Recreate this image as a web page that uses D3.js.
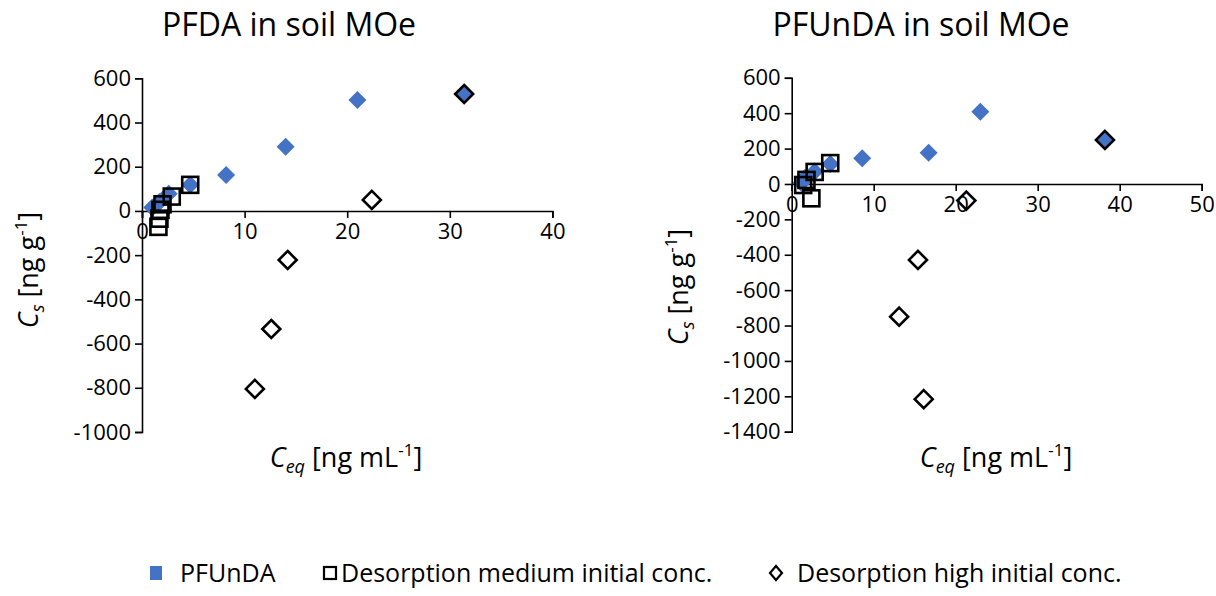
<!DOCTYPE html>
<html>
<head>
<meta charset="utf-8">
<script src="https://cdn.jsdelivr.net/npm/d3@7"></script>
<style>
  body { margin: 0; background: #fff; }
  svg { font-family: "Open Sans", sans-serif; }
</style>
</head>
<body>
<svg id="chart" width="1216" height="596"></svg>
<script>
// PFDA panel
var pfdaAdsX = [1.0, 1.7, 2.6, 4.7, 8.2, 14.0, 21.0, 31.4];
var pfdaAdsY = [15, 40, 78, 118, 163, 290, 502, 529];
var pfdaMedX = [1.6, 1.7, 1.8, 2.0, 2.9, 4.7];
var pfdaMedY = [-72, -35, 5, 30, 65, 118];
var pfdaHighX = [11.0, 12.6, 14.2, 22.4, 31.4];
var pfdaHighY = [-805, -534, -222, 50, 529];

// PFUnDA panel
var pfundaAdsX = [1.2, 1.6, 2.8, 4.7, 8.6, 16.7, 23.0, 38.2];
var pfundaAdsY = [5, 34, 70, 113, 145, 177, 408, 249];
var pfundaMedX = [1.4, 1.8, 2.4, 2.8, 4.7];
var pfundaMedY = [-6, 23, -81, 68, 118];
var pfundaHighX = [13.1, 15.4, 16.1, 21.3, 38.2];
var pfundaHighY = [-750, -429, -1216, -94, 249];

var leftXTicks = [0, 10, 20, 30, 40];
var leftYTicks = [-1000, -800, -600, -400, -200, 0, 200, 400, 600];
var rightXTicks = [0, 10, 20, 30, 40, 50];
var rightYTicks = [-1400, -1200, -1000, -800, -600, -400, -200, 0, 200, 400, 600];

var legendLabels = ["PFUnDA", "Desorption medium initial conc.", "Desorption high initial conc."];

var blue = "#4472c4";
var svg = d3.select("#chart");

function zip(xs, ys) {
  return xs.map(function(x, i) { return { x: x, y: ys[i] }; });
}

// excel style labels use a plain hyphen
function fmt(d) { return String(d); }

function panel(opt) {
  var x = d3.scaleLinear().domain(opt.xDomain).range(opt.xRange);
  var y = d3.scaleLinear().domain(opt.yDomain).range(opt.yRange);
  var g = svg.append("g");

  // y axis
  var ya = g.append("g")
    .attr("transform", "translate(" + x(0) + ",0)")
    .call(d3.axisLeft(y).tickValues(opt.yTicks).tickSize(7).tickPadding(4).tickFormat(fmt));
  ya.select(".domain").attr("stroke", "#000").attr("stroke-width", 1.6);
  ya.selectAll(".tick line").attr("stroke", "#000").attr("stroke-width", 1.6);
  ya.selectAll(".tick text").attr("font-size", 22).attr("fill", "#000")
    .attr("font-family", "Open Sans");

  // x axis sits on y = 0
  var xa = g.append("g")
    .attr("transform", "translate(0," + y(0) + ")")
    .call(d3.axisBottom(x).tickValues(opt.xTicks).tickSize(7).tickPadding(5).tickSizeOuter(7).tickFormat(fmt));
  xa.select(".domain").attr("stroke", "#000").attr("stroke-width", 1.6);
  xa.selectAll(".tick line").attr("stroke", "#000").attr("stroke-width", 1.6);
  xa.selectAll(".tick text").attr("font-size", 22).attr("fill", "#000")
    .attr("font-family", "Open Sans");

  // adsorption points
  g.selectAll(".ads").data(zip(opt.adsX, opt.adsY)).enter()
    .append("path")
    .attr("d", "M0,-9L9,0L0,9L-9,0Z")
    .attr("transform", function(d) { return "translate(" + x(d.x) + "," + y(d.y) + ")"; })
    .attr("fill", blue);

  // medium desorption (hollow squares)
  g.selectAll(".med").data(zip(opt.medX, opt.medY)).enter()
    .append("rect")
    .attr("x", function(d) { return x(d.x) - 8; })
    .attr("y", function(d) { return y(d.y) - 8; })
    .attr("width", 16).attr("height", 16)
    .attr("fill", "none").attr("stroke", "#000").attr("stroke-width", 2.6);

  // high desorption (hollow diamonds)
  g.selectAll(".high").data(zip(opt.highX, opt.highY)).enter()
    .append("path")
    .attr("d", "M0,-9L9,0L0,9L-9,0Z")
    .attr("transform", function(d) { return "translate(" + x(d.x) + "," + y(d.y) + ")"; })
    .attr("fill", "none").attr("stroke", "#000").attr("stroke-width", 2.6);

  // title
  g.append("text").attr("x", opt.titleX).attr("y", 36)
    .attr("text-anchor", "middle").attr("font-size", 32).text(opt.title);

  // x label
  var xl = g.append("text").attr("x", opt.xLabelX).attr("y", 467)
    .attr("text-anchor", "middle").attr("font-size", 27);
  xl.append("tspan").attr("font-style", "italic").text("C");
  xl.append("tspan").attr("font-style", "italic").attr("font-size", 18).attr("dy", 6).text("eq");
  xl.append("tspan").attr("dy", -6).text(" [ng mL");
  xl.append("tspan").attr("font-size", 17).attr("dy", -11).text("-1");
  xl.append("tspan").attr("dy", 11).text("]");

  // y label
  var yl = g.append("text")
    .attr("transform", "translate(" + opt.yLabelX + "," + opt.yLabelY + ") rotate(-90)")
    .attr("text-anchor", "middle").attr("font-size", 27);
  yl.append("tspan").attr("font-style", "italic").text("C");
  yl.append("tspan").attr("font-style", "italic").attr("font-size", 18).attr("dy", 6).text("s");
  yl.append("tspan").attr("dy", -6).text(" [ng g");
  yl.append("tspan").attr("font-size", 17).attr("dy", -11).text("-1");
  yl.append("tspan").attr("dy", 11).text("]");
}

panel({
  xDomain: [0, 40], xRange: [142, 552.4],
  yDomain: [-1000, 600], yRange: [432, 78.3],
  xTicks: leftXTicks, yTicks: leftYTicks,
  adsX: pfdaAdsX, adsY: pfdaAdsY,
  medX: pfdaMedX, medY: pfdaMedY,
  highX: pfdaHighX, highY: pfdaHighY,
  title: "PFDA in soil MOe", titleX: 289,
  xLabelX: 346, yLabelX: 38, yLabelY: 270
});

panel({
  xDomain: [0, 50], xRange: [791.7, 1201.7],
  yDomain: [-1400, 600], yRange: [431.7, 77.8],
  xTicks: rightXTicks, yTicks: rightYTicks,
  adsX: pfundaAdsX, adsY: pfundaAdsY,
  medX: pfundaMedX, medY: pfundaMedY,
  highX: pfundaHighX, highY: pfundaHighY,
  title: "PFUnDA in soil MOe", titleX: 921,
  xLabelX: 996, yLabelX: 688, yLabelY: 287
});

// legend
var leg = svg.append("g").attr("font-size", 25);
var ly = 573;
leg.append("rect").attr("x", 150).attr("y", ly - 7).attr("width", 12).attr("height", 14).attr("fill", blue);
leg.append("text").attr("x", 180).attr("y", ly + 9).text(legendLabels[0]);
leg.append("rect").attr("x", 324).attr("y", ly - 6).attr("width", 12).attr("height", 12)
  .attr("fill", "none").attr("stroke", "#000").attr("stroke-width", 2.2);
leg.append("text").attr("x", 341).attr("y", ly + 9).text(legendLabels[1]);
leg.append("path").attr("d", "M0,-7L6,0L0,7L-6,0Z").attr("transform", "translate(776," + ly + ")")
  .attr("fill", "none").attr("stroke", "#000").attr("stroke-width", 2.2);
leg.append("text").attr("x", 797).attr("y", ly + 9).text(legendLabels[2]);
</script>
</body>
</html>
